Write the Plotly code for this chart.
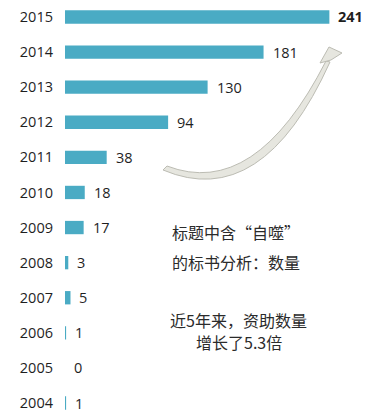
import plotly.graph_objects as go

years = ["2004", "2005", "2006", "2007", "2008", "2009", "2010",
         "2011", "2012", "2013", "2014", "2015"]
counts = [1, 0, 1, 5, 3, 17, 18, 38, 94, 130, 181, 241]
note_lines_a = ["标题中含“自噬”", "的标书分析：数量"]
note_lines_b = ["近5年来，资助数量", "增长了5.3倍"]

W, H = 378, 416
ML, MR, MT, MB = 65, 0, 0, 0
PW, PH = W - ML - MR, H - MT - MB


def px(x):
    return (x - ML) / PW


def py(y):
    return (H - MB - y) / PH


BAR = "#4aabc4"
TXT = "#1f1f1f"
FONT = "Open Sans, Noto Sans CJK SC, sans-serif"
CJK = "Noto Sans CJK SC, sans-serif"

fig = go.Figure()
fig.add_trace(go.Bar(
    y=years, x=counts, orientation="h",
    marker=dict(color=BAR, line=dict(width=0)),
    width=0.38, hoverinfo="skip",
))

annotations = []
for i, (yr, v) in enumerate(zip(years, counts)):
    label = f"<b>{v}</b>" if yr == "2015" else str(v)
    annotations.append(dict(
        x=v, y=i, xref="x", yref="y", text=label, showarrow=False,
        xanchor="left", yanchor="middle", xshift=7,
        font=dict(family=FONT, size=14.5, color=TXT),
    ))

for txt, yy in zip(note_lines_a, [232, 262]):
    annotations.append(dict(
        x=px(170), y=py(yy), xref="paper", yref="paper", text=txt,
        showarrow=False, xanchor="left", yanchor="middle",
        font=dict(family=CJK, size=16, color="#2b2b2b"),
    ))
for txt, yy in zip(note_lines_b, [320, 342]):
    annotations.append(dict(
        x=px(238.5), y=py(yy), xref="paper", yref="paper", text=txt,
        showarrow=False, xanchor="center", yanchor="middle",
        font=dict(family=CJK, size=16, color="#2b2b2b"),
    ))


def pt(x, y):
    return f"{px(x):.5f},{py(y):.5f}"


# decorative curved arrow
arrow_body = (
    f"M {pt(163,170)} Q {pt(262,212)} {pt(330,62)} "
    f"L {pt(326,61)} Q {pt(255,200)} {pt(167,166)} Z"
)
arrow_head = f"M {pt(320,63)} L {pt(329,47)} L {pt(342,53)} L {pt(331,60)} Z"

shapes = [
    dict(type="path", path=arrow_body, xref="paper", yref="paper",
         fillcolor="#e6e6df", line=dict(color="#bcbcb3", width=1)),
    dict(type="path", path=arrow_head, xref="paper", yref="paper",
         fillcolor="#e6e6df", line=dict(color="#bcbcb3", width=1)),
]

fig.update_layout(
    width=W, height=H,
    margin=dict(l=ML, r=MR, t=MT, b=MB, pad=0),
    paper_bgcolor="white", plot_bgcolor="white",
    showlegend=False,
    xaxis=dict(range=[0, PW / 1.097], showticklabels=False, showgrid=False,
               zeroline=False, showline=False, ticks="", fixedrange=True),
    yaxis=dict(
        type="category", categoryorder="array", categoryarray=years,
        range=[-0.37, 11.484], showgrid=False, zeroline=False,
        showline=False, ticks="", ticklabelstandoff=11,
        tickfont=dict(family=FONT, size=14.5, color=TXT), fixedrange=True,
    ),
    annotations=annotations,
    shapes=shapes,
)

fig.write_html(
    "out.html",
    config={"displayModeBar": False, "staticPlot": True},
    post_script="document.body.style.margin='0';document.body.style.padding='0';",
)
